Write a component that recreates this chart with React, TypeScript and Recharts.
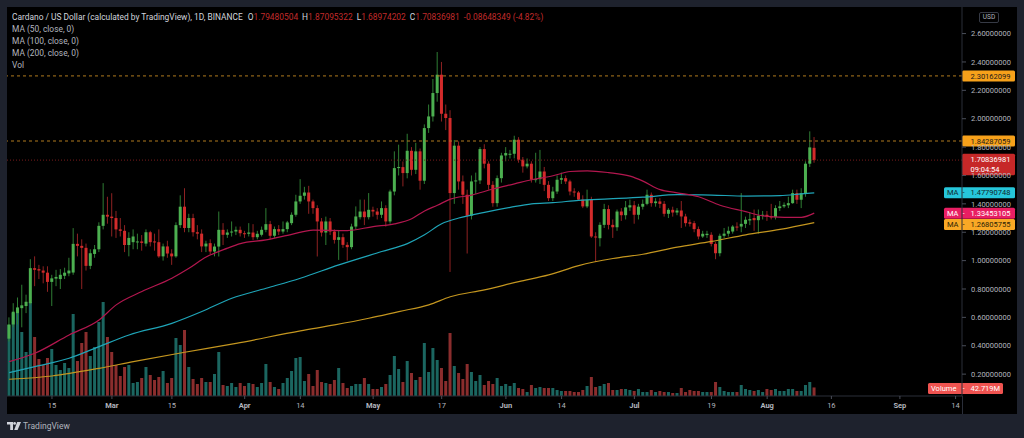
import React from "react";
import { ComposedChart, Bar, Line, XAxis, YAxis, ReferenceLine } from "recharts";

const FONT = "Roboto, 'Noto Sans', sans-serif";

// ---- categories: one per day, Feb 5 2021 .. Sep 15 2021 ----
const START_DAY = Date.UTC(2021, 1, 5);
const DAY_MS = 86400000;
const DAY_COUNT = 223;
const days: string[] = Array.from({ length: DAY_COUNT }, (_, i) =>
  new Date(START_DAY + i * DAY_MS).toISOString().slice(0, 10)
);

// ---- time axis ticks ----
const tickDates = [
  "2021-02-15", "2021-03-01", "2021-03-15", "2021-04-01", "2021-04-14",
  "2021-05-01", "2021-05-17", "2021-06-01", "2021-06-14", "2021-07-01",
  "2021-07-19", "2021-08-01", "2021-08-16", "2021-09-01", "2021-09-14",
];
const tickLabels = ["15", "Mar", "15", "Apr", "14", "May", "17", "Jun", "14", "Jul", "19", "Aug", "16", "Sep", "14"];

// ---- price axis ticks ----
const priceTicks = [0.2, 0.4, 0.6, 0.8, 1.0, 1.2, 1.4, 1.6, 1.8, 2.0, 2.2, 2.4, 2.6];

// ---- OHLC ----
const opens = [
  0.45,0.55,0.63,0.665,0.68,0.70,0.947,0.94,0.93,0.915,
  0.85,0.873,0.87,0.893,0.91,0.916,1.118,1.104,1.09,0.963,
  1.047,1.08,1.245,1.323,1.31,1.30,1.22,1.21,1.11,1.13,
  1.13,1.135,1.12,1.20,1.135,1.13,1.03,1.10,1.05,1.03,
  1.25,1.38,1.23,1.30,1.20,1.19,1.10,1.123,1.064,1.099,
  1.217,1.182,1.198,1.205,1.217,1.193,1.189,1.198,1.165,1.182,
  1.217,1.257,1.175,1.222,1.205,1.222,1.264,1.323,1.417,1.457,
  1.48,1.417,1.37,1.276,1.198,1.276,1.205,1.146,1.165,1.111,
  1.095,1.24,1.306,1.346,1.306,1.358,1.346,1.323,1.37,1.276,
  1.487,1.652,1.659,1.617,1.774,1.640,1.770,1.563,1.934,2.016,
  2.181,2.31,2.035,2.005,1.476,1.81,1.558,1.464,1.316,1.558,
  1.565,1.786,1.683,1.534,1.405,1.581,1.741,1.746,1.753,1.852,
  1.711,1.664,1.683,1.570,1.574,1.628,1.534,1.440,1.487,1.570,
  1.581,1.558,1.487,1.480,1.430,1.382,1.429,1.170,1.158,1.252,
  1.363,1.252,1.235,1.346,1.320,1.375,1.390,1.323,1.380,1.400,
  1.464,1.405,1.417,1.400,1.330,1.358,1.339,1.353,1.311,1.270,
  1.264,1.222,1.170,1.180,1.182,1.118,1.052,1.175,1.190,1.205,
  1.240,1.240,1.259,1.283,1.300,1.285,1.316,1.323,1.311,1.306,
  1.370,1.382,1.390,1.405,1.476,1.429,1.476,1.683,1.79480504,
];
const highs = [
  0.60,0.70,0.74,0.83,0.76,1.01,1.03,0.97,0.96,0.96,
  0.90,0.935,0.94,0.95,1.02,1.229,1.19,1.15,1.12,1.08,
  1.11,1.27,1.546,1.45,1.475,1.35,1.30,1.25,1.20,1.22,
  1.19,1.18,1.22,1.21,1.19,1.22,1.12,1.14,1.08,1.27,
  1.46,1.51,1.33,1.33,1.25,1.22,1.14,1.15,1.12,1.346,
  1.264,1.22,1.276,1.24,1.24,1.21,1.264,1.257,1.21,1.24,
  1.37,1.28,1.24,1.25,1.276,1.28,1.34,1.464,1.574,1.52,
  1.527,1.43,1.39,1.30,1.31,1.30,1.22,1.21,1.19,1.13,
  1.26,1.382,1.43,1.43,1.476,1.38,1.37,1.417,1.39,1.50,
  1.77,1.817,1.699,1.894,1.80,1.83,1.79,1.96,2.10,2.28,
  2.47,2.40,2.10,2.06,1.85,1.84,1.60,1.50,1.60,1.62,
  1.80,1.82,1.70,1.56,1.60,1.76,1.80,1.78,1.88,1.87,
  1.73,1.72,1.70,1.76,1.78,1.66,1.56,1.52,1.60,1.62,
  1.60,1.57,1.51,1.49,1.46,1.50,1.45,1.20,1.27,1.40,
  1.39,1.29,1.36,1.37,1.42,1.43,1.42,1.40,1.43,1.50,
  1.48,1.44,1.44,1.42,1.37,1.38,1.37,1.42,1.33,1.29,
  1.28,1.24,1.21,1.21,1.20,1.13,1.19,1.23,1.24,1.25,
  1.27,1.476,1.31,1.34,1.36,1.36,1.35,1.35,1.40,1.39,
  1.42,1.41,1.45,1.50,1.50,1.51,1.70,1.911,1.87095322,
];
const lows = [
  0.43,0.53,0.55,0.53,0.63,0.69,0.82,0.87,0.84,0.78,
  0.68,0.82,0.80,0.87,0.89,0.90,1.03,0.80,0.93,0.94,
  1.02,1.06,1.22,1.26,1.17,1.16,1.17,1.06,1.03,1.08,
  1.08,1.07,1.10,1.10,1.07,1.02,1.00,1.02,0.97,1.02,
  1.23,1.20,1.20,1.17,1.15,1.06,1.06,1.04,1.03,1.029,
  1.11,1.16,1.17,1.18,1.17,1.16,1.17,1.146,1.15,1.17,
  1.20,1.15,1.16,1.18,1.19,1.20,1.25,1.31,1.40,1.43,
  1.33,1.33,1.029,1.17,1.11,1.18,1.12,1.005,1.09,1.00,
  1.08,1.22,1.29,1.25,1.29,1.31,1.29,1.30,1.24,1.26,
  1.46,1.60,1.523,1.58,1.60,1.61,1.50,1.54,1.90,1.98,
  2.12,1.98,1.92,0.92,1.40,1.50,1.40,1.05,1.29,1.47,
  1.54,1.65,1.50,1.38,1.38,1.55,1.70,1.72,1.72,1.69,
  1.62,1.65,1.55,1.55,1.54,1.49,1.42,1.42,1.47,1.54,
  1.54,1.46,1.45,1.42,1.37,1.37,1.16,0.99,1.10,1.23,
  1.22,1.16,1.21,1.28,1.29,1.35,1.26,1.29,1.36,1.39,
  1.38,1.38,1.37,1.31,1.30,1.31,1.32,1.23,1.24,1.24,
  1.20,1.15,1.16,1.16,1.10,1.01,1.03,1.16,1.17,1.19,
  1.21,1.20,1.23,1.25,1.21,1.19,1.29,1.28,1.29,1.29,
  1.35,1.37,1.37,1.40,1.40,1.37,1.45,1.66,1.68974202,
];
const closes = [
  0.55,0.64,0.67,0.685,0.71,0.947,0.935,0.93,0.915,0.85,
  0.875,0.885,0.90,0.915,0.93,1.118,1.104,1.09,0.963,1.052,
  1.08,1.245,1.323,1.31,1.30,1.22,1.21,1.11,1.16,1.17,
  1.135,1.125,1.20,1.13,1.128,1.03,1.10,1.05,1.03,1.25,
  1.38,1.23,1.30,1.20,1.19,1.10,1.12,1.064,1.099,1.217,
  1.182,1.198,1.205,1.217,1.193,1.189,1.198,1.165,1.189,1.217,
  1.257,1.175,1.222,1.205,1.222,1.269,1.323,1.417,1.457,1.48,
  1.417,1.37,1.276,1.198,1.276,1.205,1.146,1.165,1.111,1.095,
  1.24,1.311,1.346,1.306,1.358,1.346,1.323,1.37,1.276,1.487,
  1.652,1.66,1.617,1.774,1.640,1.770,1.563,1.934,2.016,2.181,
  2.31,2.035,2.005,1.476,1.81,1.558,1.464,1.316,1.558,1.565,
  1.786,1.683,1.534,1.405,1.581,1.741,1.758,1.753,1.852,1.711,
  1.664,1.683,1.570,1.574,1.628,1.534,1.440,1.487,1.570,1.581,
  1.558,1.487,1.480,1.430,1.382,1.429,1.170,1.165,1.252,1.363,
  1.252,1.235,1.346,1.320,1.375,1.390,1.323,1.380,1.400,1.464,
  1.405,1.417,1.400,1.330,1.358,1.339,1.353,1.311,1.264,1.260,
  1.222,1.170,1.189,1.189,1.118,1.052,1.175,1.190,1.210,1.240,
  1.236,1.259,1.288,1.292,1.285,1.316,1.323,1.311,1.306,1.370,
  1.382,1.393,1.405,1.476,1.429,1.476,1.683,1.798,1.70836981,
];
// volume, millions
const volumes = [
  355,415,440,320,220,470,295,185,155,190,
  235,155,130,165,140,410,175,265,320,200,
  245,370,470,295,220,155,100,145,155,65,
  70,90,145,105,80,95,125,65,90,290,
  255,330,145,85,60,90,70,70,110,220,
  55,50,65,45,65,50,65,60,45,65,
  160,70,45,35,65,90,125,190,195,75,
  110,50,130,70,65,60,80,140,65,40,
  50,60,60,90,60,35,35,45,60,105,
  200,135,70,175,115,80,95,265,120,240,
  180,140,75,315,150,115,85,160,120,75,
  105,55,75,60,90,50,60,50,65,40,
  35,20,55,40,45,40,40,40,30,25,
  25,25,20,20,30,50,95,45,50,60,
  65,30,30,35,35,30,25,35,20,20,
  30,20,25,20,20,15,15,40,20,30,
  25,25,20,20,20,70,45,25,20,20,
  20,55,35,30,25,30,20,35,30,35,
  25,25,35,35,25,25,55,70,42.719,
];

// ---- moving averages (candle index -> value) ----
const ma50Idx = [0,6,14,21,25,31,38,42,46,51,54,60,66,71,79,85,90,94,97,100,103,108,113,118,122,127,131,135,140,145,148,152,156,161,166,172,176,181,185,188];
const ma50Val = [0.288,0.347,0.476,0.582,0.688,0.782,0.876,0.946,1.025,1.088,1.12,1.146,1.185,1.215,1.212,1.24,1.259,1.295,1.35,1.39,1.433,1.462,1.505,1.541,1.57,1.598,1.628,1.633,1.62,1.595,1.56,1.5,1.478,1.45,1.39,1.345,1.315,1.305,1.305,1.33453105];
const ma100Idx = [0,6,14,21,28,38,45,52,60,68,77,87,93,97,101,105,111,117,122,127,133,140,148,156,164,172,180,185,188];
const ma100Val = [0.211,0.253,0.312,0.394,0.476,0.558,0.641,0.735,0.805,0.876,0.97,1.064,1.12,1.182,1.26,1.3,1.34,1.375,1.4,1.408,1.425,1.435,1.447,1.465,1.462,1.455,1.458,1.47,1.47790748];
const ma200Idx = [0,10,21,29,41,53,68,76,84,91,98,103,111,119,126,133,141,148,156,164,172,180,188];
const ma200Val = [0.164,0.187,0.241,0.288,0.354,0.417,0.505,0.547,0.594,0.641,0.688,0.745,0.794,0.852,0.899,0.965,1.015,1.045,1.095,1.135,1.182,1.22,1.26805755];

const LEVEL_HI = 2.30162099;
const LEVEL_LO = 1.84287059;
const LAST = 1.70836981;

const ohlcKeys = ["O", "H", "L", "C"];
const ohlcValues = ["1.79480504", "1.87095322", "1.68974202", "1.70836981"];
const changeText = "-0.08648349 (-4.82%)";
const legendLines = ["MA (50, close, 0)", "MA (100, close, 0)", "MA (200, close, 0)", "Vol"];

const pick = (idx: number[], val: number[], i: number) => {
  const k = idx.indexOf(i);
  return k >= 0 ? val[k] : null;
};

const data = days.map((d, i) => {
  const has = i < closes.length;
  return {
    d,
    o: has ? opens[i] : null,
    h: has ? highs[i] : null,
    l: has ? lows[i] : null,
    c: has ? closes[i] : null,
    range: has ? [lows[i], highs[i]] : null,
    vol: has ? volumes[i] : null,
    ma50: pick(ma50Idx, ma50Val, i),
    ma100: pick(ma100Idx, ma100Val, i),
    ma200: pick(ma200Idx, ma200Val, i),
  };
});

const UP = "#4caf50";
const DN = "#d32b2b";
const UP_WICK = "#2f7d34";
const DN_WICK = "#8f2222";
const VOL_UP = "#1b6660";
const VOL_DN = "#8a2d2d";

const Candle = (props: any) => {
  const { x, y, width, height, payload } = props;
  if (!payload || payload.o == null || !isFinite(y) || !isFinite(height)) return <g />;
  const { o, h, l, c } = payload;
  const up = c >= o;
  const ratio = h - l > 0 ? height / (h - l) : 0;
  const yOf = (v: number) => y + (h - v) * ratio;
  const cx = x + width / 2;
  const top = yOf(Math.max(o, c));
  const bot = yOf(Math.min(o, c));
  const bw = 3;
  return (
    <g>
      <line x1={cx} x2={cx} y1={y} y2={y + height} stroke={up ? UP_WICK : DN_WICK} strokeWidth={1} />
      <rect x={cx - bw / 2} y={top} width={bw} height={Math.max(1, bot - top)} fill={up ? UP : DN} />
    </g>
  );
};

const VolBar = (props: any) => {
  const { x, y, width, height, payload } = props;
  if (!payload || payload.vol == null || !isFinite(y) || !isFinite(height)) return <g />;
  return <rect x={x} y={y} width={width} height={Math.max(0, height)} fill={payload.c >= payload.o ? VOL_UP : VOL_DN} />;
};

const XTick = (props: any) => {
  const { x, y, payload } = props;
  const k = tickDates.indexOf(payload.value);
  const label = k >= 0 ? tickLabels[k] : "";
  const isMonth = /[A-Za-z]/.test(label);
  return (
    <text x={x} y={y} dy={6.5} textAnchor="middle" fontSize={7.5} fill="#b2b5be" fontWeight={isMonth ? 700 : 400} fontFamily={FONT}>
      {label}
    </text>
  );
};

type TagSpec = { label?: string; lines: string[]; fill: string; color: string; left: number; width: number; dy?: number };

const makeTag = (spec: TagSpec) => (props: any) => {
  const vb = props.viewBox;
  if (!vb) return null;
  const right = vb.x + vb.width;
  const bx = right + spec.left;
  const lh = 10.5;
  const bh = spec.lines.length * lh + 0.5;
  const by = vb.y - 5.5 + (spec.dy || 0);
  return (
    <g fontFamily={FONT} fontSize={7.5}>
      <rect x={bx} y={by} width={spec.width} height={bh} rx={1.5} fill={spec.fill} />
      {spec.label ? (
        <>
          <text x={bx + 3} y={by + 5.5} dy="0.35em" fill={spec.color}>{spec.label}</text>
          <text x={right + 0.5} y={by + 5.5} dy="0.35em" fill={spec.color}>-</text>
        </>
      ) : null}
      {spec.lines.map((t, k) => (
        <text key={k} x={right + 8.5} y={by + 5.5 + k * lh} dy="0.35em" fill={spec.color}>{t}</text>
      ))}
    </g>
  );
};

const headerRed = "#c22b2b";

export default function App() {
  return (
    <div style={{ position: "fixed", left: 0, top: 0, width: 1024, height: 438, background: "#1e222d", overflow: "hidden", fontFamily: FONT }}>
      <div style={{ position: "absolute", left: 7, top: 7, width: 1010, height: 407, background: "#000" }} />
      <div style={{ position: "absolute", left: 962, top: 396, width: 1, height: 18, background: "#2a2e39" }} />
      <div style={{ position: "absolute", left: 0, top: 0 }}>
        <ComposedChart width={1024} height={438} data={data} margin={{ top: 7, right: 7, bottom: 24, left: 7 }} barCategoryGap="10%">
          <XAxis
            xAxisId="p"
            dataKey="d"
            type="category"
            ticks={tickDates}
            interval={0}
            height={18}
            tick={<XTick />}
            tickSize={3}
            tickMargin={2}
            tickLine={{ stroke: "#4a4e59" }}
            axisLine={{ stroke: "#2a2e39" }}
          />
          <XAxis xAxisId="v" dataKey="d" type="category" hide />
          <YAxis
            yAxisId="p"
            orientation="right"
            type="number"
            domain={[0.0459, 2.7873]}
            allowDataOverflow
            ticks={priceTicks}
            interval={0}
            width={55}
            tickSize={4}
            tickMargin={5}
            tickFormatter={(v: number) => v.toFixed(8)}
            tick={{ fill: "#b2b5be", fontSize: 7.5, fontFamily: FONT }}
            tickLine={{ stroke: "#4a4e59" }}
            axisLine={{ stroke: "#2a2e39" }}
          />
          <YAxis yAxisId="v" type="number" domain={[0, 1945]} allowDataOverflow hide />

          <Bar xAxisId="v" yAxisId="v" dataKey="vol" shape={VolBar} isAnimationActive={false} />

          <ReferenceLine xAxisId="p" yAxisId="p" y={LEVEL_HI} stroke="#b07a1e" strokeDasharray="3 3" />
          <ReferenceLine xAxisId="p" yAxisId="p" y={LEVEL_LO} stroke="#b07a1e" strokeDasharray="3 3" />
          <ReferenceLine xAxisId="p" yAxisId="p" y={LAST} stroke="#7a1c1c" strokeDasharray="1 2" />

          <Line xAxisId="p" yAxisId="p" dataKey="ma200" type="monotone" connectNulls dot={false} activeDot={false} stroke="#c4961f" strokeWidth={1.2} isAnimationActive={false} />
          <Line xAxisId="p" yAxisId="p" dataKey="ma100" type="monotone" connectNulls dot={false} activeDot={false} stroke="#1fa5b8" strokeWidth={1.2} isAnimationActive={false} />
          <Line xAxisId="p" yAxisId="p" dataKey="ma50" type="monotone" connectNulls dot={false} activeDot={false} stroke="#b3174f" strokeWidth={1.2} isAnimationActive={false} />

          <Bar xAxisId="p" yAxisId="p" dataKey="range" shape={Candle} isAnimationActive={false} />

          <ReferenceLine xAxisId="p" yAxisId="p" y={LEVEL_HI} strokeOpacity={0}
            label={makeTag({ lines: ["2.30162099"], fill: "#f7a11a", color: "#1a1a1a", left: 0, width: 53 })} />
          <ReferenceLine xAxisId="p" yAxisId="p" y={LEVEL_LO} strokeOpacity={0}
            label={makeTag({ lines: ["1.84287059"], fill: "#f7a11a", color: "#1a1a1a", left: 0, width: 53 })} />
          <ReferenceLine xAxisId="p" yAxisId="p" y={LAST} strokeOpacity={0}
            label={makeTag({ lines: ["1.70836981", "09:04:54"], fill: "#c62828", color: "#ffffff", left: 0, width: 53, dy: -0.8 })} />
          <ReferenceLine xAxisId="p" yAxisId="p" y={ma100Val[ma100Val.length - 1]} strokeOpacity={0}
            label={makeTag({ label: "MA", lines: ["1.47790748"], fill: "#26c6da", color: "#10282c", left: -18, width: 71 })} />
          <ReferenceLine xAxisId="p" yAxisId="p" y={ma50Val[ma50Val.length - 1]} strokeOpacity={0}
            label={makeTag({ label: "MA", lines: ["1.33453105"], fill: "#e91e63", color: "#ffffff", left: -18, width: 71 })} />
          <ReferenceLine xAxisId="p" yAxisId="p" y={ma200Val[ma200Val.length - 1]} strokeOpacity={0}
            label={makeTag({ label: "MA", lines: ["1.26805755"], fill: "#f9a825", color: "#2a1e05", left: -18, width: 71, dy: 2 })} />
          <ReferenceLine xAxisId="v" yAxisId="v" y={volumes[volumes.length - 1]} strokeOpacity={0}
            label={makeTag({ label: "Volume", lines: ["42.719M"], fill: "#ef5350", color: "#ffffff", left: -34, width: 75, dy: 1 })} />
        </ComposedChart>
      </div>

      {/* legend / header */}
      <div style={{ position: "absolute", left: 12, top: 10.5, display: "flex", alignItems: "baseline", fontSize: 8.4, lineHeight: "12px", color: "#d1d4dc", whiteSpace: "nowrap" }}>
        <span style={{ marginRight: 5 }}>Cardano / US Dollar (calculated by TradingView), 1D, BINANCE</span>
        {ohlcKeys.map((k, i) => (
          <span key={k} style={{ marginRight: 4 }}>
            <span>{k}</span>
            <span style={{ color: headerRed }}>{ohlcValues[i]}</span>
          </span>
        ))}
        <span style={{ color: headerRed }}>{changeText}</span>
      </div>
      {legendLines.map((t, k) => (
        <div key={t} style={{ position: "absolute", left: 12, top: 23 + k * 12, fontSize: 8.4, lineHeight: "12px", color: "#b2b5be", whiteSpace: "nowrap" }}>
          {t}
        </div>
      ))}

      {/* USD badge */}
      <div style={{ position: "absolute", left: 979, top: 11.5, width: 20, height: 11, border: "1px solid #363a45", borderRadius: 2, boxSizing: "border-box", color: "#b2b5be", fontSize: 6.5, lineHeight: "9px", textAlign: "center" }}>
        USD
      </div>

      {/* footer logo */}
      <svg style={{ position: "absolute", left: 7, top: 422 }} width={14} height={8} viewBox="0 0 14 8">
        <path d="M0 0h6v8H3.2V2.6H0z" fill="#d1d4dc" />
        <circle cx="7.6" cy="1.4" r="1.4" fill="#d1d4dc" />
        <path d="M10.2 0H14l-3.4 8H7.2z" fill="#d1d4dc" />
      </svg>
      <div style={{ position: "absolute", left: 23, top: 420, fontSize: 8.5, lineHeight: "12px", color: "#b2b5be", whiteSpace: "nowrap" }}>
        TradingView
      </div>
    </div>
  );
}
